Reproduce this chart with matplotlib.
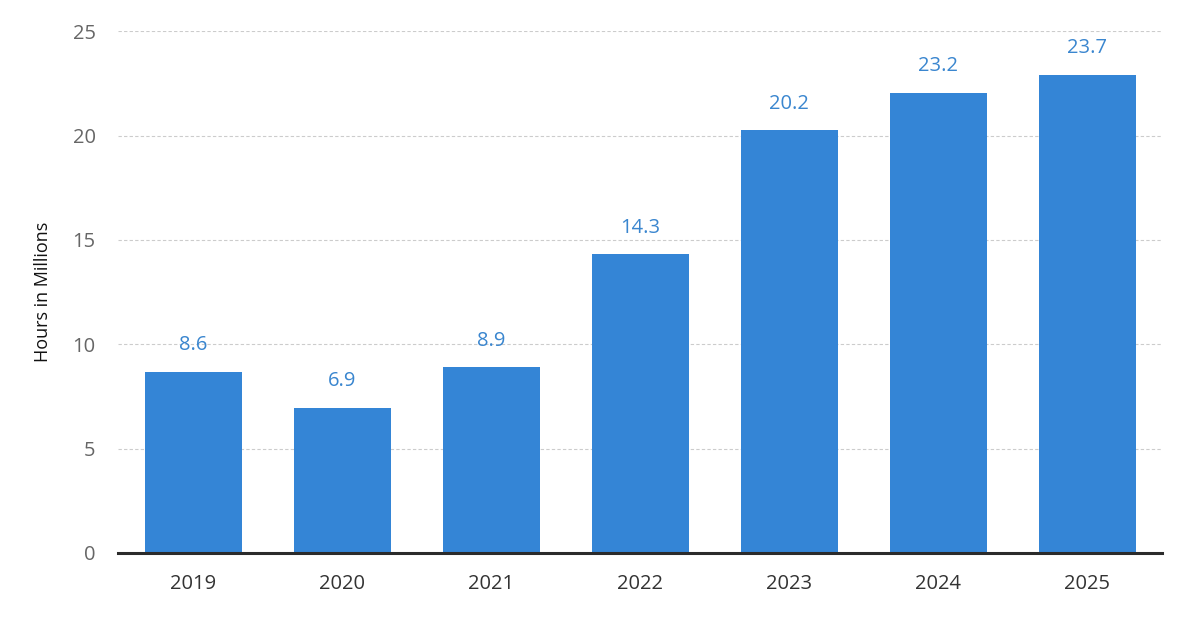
import matplotlib
matplotlib.use("Agg")
import matplotlib.pyplot as plt

years = ["2019", "2020", "2021", "2022", "2023", "2024", "2025"]
bar_heights = [8.67, 6.94, 8.9, 14.3, 20.25, 22.03, 22.9]
value_labels = ["8.6", "6.9", "8.9", "14.3", "20.2", "23.2", "23.7"]
y_ticks = [0, 5, 10, 15, 20, 25]

plt.rcParams['font.family'] = ['Open Sans', 'DejaVu Sans']

fig = plt.figure(figsize=(11.82, 6.23), dpi=100)
ax = fig.add_axes([0.0998, 0.1124, 0.8832, 0.8376])

x = range(len(years))
bars = ax.bar(x, bar_heights, width=0.65, color="#3485D6", zorder=3)
for xi, h, lab in zip(x, bar_heights, value_labels):
    ax.annotate(lab, (xi, h), xytext=(0, 12), textcoords="offset points",
                ha="center", va="bottom", color="#3A86CF", fontsize=14.5,
                fontweight="medium")

ax.set_xlim(-0.505, 6.5)
ax.set_ylim(0, 25)
ax.set_yticks(y_ticks)
ax.set_xticks(list(x))
ax.set_xticklabels(years)
ax.yaxis.grid(True, linestyle=(0, (3, 2)), color="#cccccc", linewidth=0.8, zorder=0)
for s in ["top", "right", "left"]:
    ax.spines[s].set_visible(False)
ax.spines["bottom"].set_color("#2b2b2b")
ax.spines["bottom"].set_linewidth(2.2)
ax.spines["bottom"].set_zorder(4)
ax.tick_params(axis="y", length=0, pad=16, labelsize=14.5, labelcolor="#666666")
ax.tick_params(axis="x", length=0, pad=15, labelsize=14.5, labelcolor="#333333")
ax.set_ylabel("Hours in Millions", fontsize=13, color="#111111", labelpad=15,
              fontweight="medium")

fig.savefig("out.png", dpi=100)
